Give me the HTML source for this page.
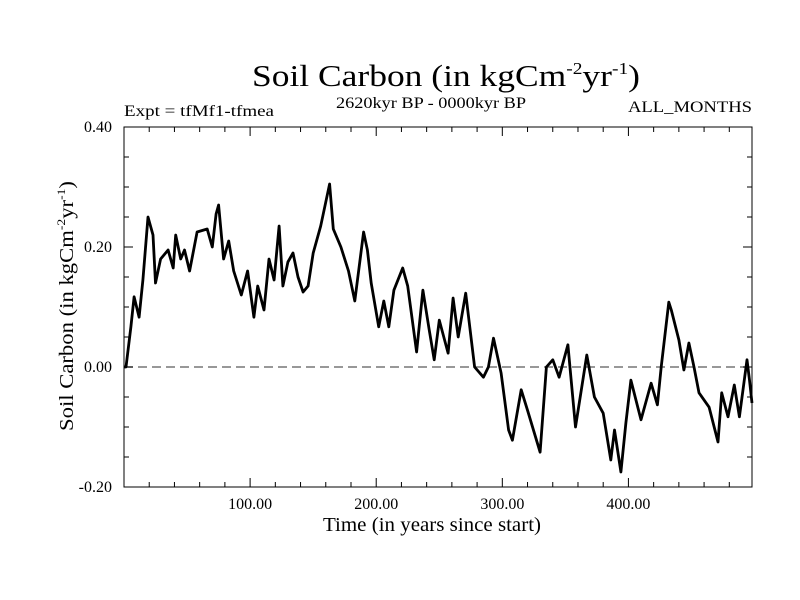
<!DOCTYPE html>
<html><head><meta charset="utf-8"><style>
html,body{margin:0;padding:0;background:#fff;}
svg{display:block;font-family:"Liberation Serif",serif;}
</style></head><body>
<svg id="chart" width="800" height="600" viewBox="0 0 800 600">
<text x="446" y="86" text-anchor="middle" font-size="31" textLength="388" lengthAdjust="spacingAndGlyphs">Soil Carbon (in kgCm<tspan font-size="17" dy="-12">-2</tspan><tspan dy="12">yr</tspan><tspan font-size="17" dy="-12">-1</tspan><tspan dy="12">)</tspan></text>
<text x="431" y="108" text-anchor="middle" font-size="16" textLength="190" lengthAdjust="spacingAndGlyphs">2620kyr BP - 0000kyr BP</text>
<text x="124" y="116" font-size="16" textLength="150" lengthAdjust="spacingAndGlyphs">Expt = tfMf1-tfmea</text>
<text x="752" y="112" text-anchor="end" font-size="16" textLength="124" lengthAdjust="spacingAndGlyphs">ALL_MONTHS</text>
<text x="432" y="531" text-anchor="middle" font-size="20" textLength="218" lengthAdjust="spacingAndGlyphs">Time (in years since start)</text>
<text transform="translate(73,306) rotate(-90)" text-anchor="middle" font-size="20" textLength="250" lengthAdjust="spacingAndGlyphs">Soil Carbon (in kgCm<tspan font-size="12" dy="-8">-2</tspan><tspan dy="8">yr</tspan><tspan font-size="12" dy="-8">-1</tspan><tspan dy="8">)</tspan></text>
<g id="axes"></g>
<g id="series"></g>
</svg>
<script>
const years=[0,1.6,5.5,8,12,15,19,23,25,29,35,39,41,45,48,52,58,66,70,73,75,79,83,87,93,98,103,106,111,115,119,123,126,130,134,138,142,146,150,156,163,166,172,178,183,190,193,196,202,206,210,214,221,225,232,237,242,246,250,257,261,265,271,278,285,289,293,299,305,308,315,320,330,335,340,345,352,358,367,373,380,386,389,394,398,402,410,418,423,426,432,434,440,444,448,452,456,464,471,474,479,484,488,494,496,498];
const values=[0,0,0.067,0.117,0.083,0.145,0.25,0.22,0.14,0.18,0.195,0.165,0.22,0.18,0.195,0.16,0.225,0.23,0.2,0.255,0.27,0.18,0.21,0.16,0.12,0.16,0.083,0.135,0.095,0.18,0.145,0.235,0.135,0.175,0.19,0.15,0.125,0.135,0.19,0.235,0.305,0.23,0.2,0.16,0.11,0.225,0.195,0.14,0.067,0.11,0.067,0.128,0.165,0.135,0.025,0.128,0.062,0.012,0.078,0.023,0.115,0.05,0.123,0,-0.017,0,0.048,-0.01,-0.105,-0.122,-0.038,-0.072,-0.142,0,0.012,-0.017,0.037,-0.1,0.02,-0.05,-0.077,-0.155,-0.105,-0.175,-0.093,-0.022,-0.088,-0.027,-0.063,0,0.108,0.095,0.045,-0.005,0.04,0,-0.043,-0.067,-0.125,-0.043,-0.083,-0.03,-0.083,0.012,-0.022,-0.06];
const yTickValues=[0.40,0.20,0.00,-0.20];
const yTickLabels=["0.40","0.20","0.00","-0.20"];
const xTickValues=[100,200,300,400];
const xTickLabels=["100.00","200.00","300.00","400.00"];

const L=124,R=752,T=127,B=487,X0=0,X1=498,Y0=-0.2,Y1=0.4;
const NS='http://www.w3.org/2000/svg';
function xs(v){return L+(v-X0)/(X1-X0)*(R-L);}
function ys(v){return B-(v-Y0)/(Y1-Y0)*(B-T);}
function mk(tag,attrs,parent){const e=document.createElementNS(NS,tag);for(const k in attrs)e.setAttribute(k,attrs[k]);parent.appendChild(e);return e;}
const ax=document.getElementById('axes');
const frame=mk('rect',{x:L,y:T,width:R-L,height:B-T,fill:'none',stroke:'#000','stroke-width':1},ax);


const zl=mk('line',{x1:L,x2:R,y1:ys(0),y2:ys(0),stroke:'#777','stroke-width':1.5,'stroke-dasharray':'9,5'},ax);


for(let v=20;v<X1;v+=20){const maj=v%100===0;const len=maj?9:5;
 const t1=mk('line',{x1:xs(v),x2:xs(v),y1:B,y2:B-len,stroke:'#000'},ax);
 
 
 const t2=mk('line',{x1:xs(v),x2:xs(v),y1:T,y2:T+len,stroke:'#000'},ax);
 
 }
for(let i=-4;i<=8;i++){const v=i*0.05;const maj=i%4===0;const len=maj?9:5;
 const t1=mk('line',{x1:L,x2:L+len,y1:ys(v),y2:ys(v),stroke:'#000'},ax);
 
 
 const t2=mk('line',{x1:R,x2:R-len,y1:ys(v),y2:ys(v),stroke:'#000'},ax);
 
 }
xTickValues.forEach((v,i)=>{const t=mk('text',{x:xs(v),y:B+22,'text-anchor':'middle','font-size':16},ax);t.textContent=xTickLabels[i];
 
 });
yTickValues.forEach((v,i)=>{const t=mk('text',{x:L-12,y:ys(v)+5,'text-anchor':'end','font-size':16},ax);t.textContent=yTickLabels[i];
 
 });
const d=years.map((yr,i)=>(i?'L':'M')+xs(yr).toFixed(1)+','+ys(values[i]).toFixed(1)).join('');
const p=mk('path',{d:d,fill:'none',stroke:'#000','stroke-width':2.8,'stroke-linejoin':'round'},document.getElementById('series'));


</script>
</body></html>
